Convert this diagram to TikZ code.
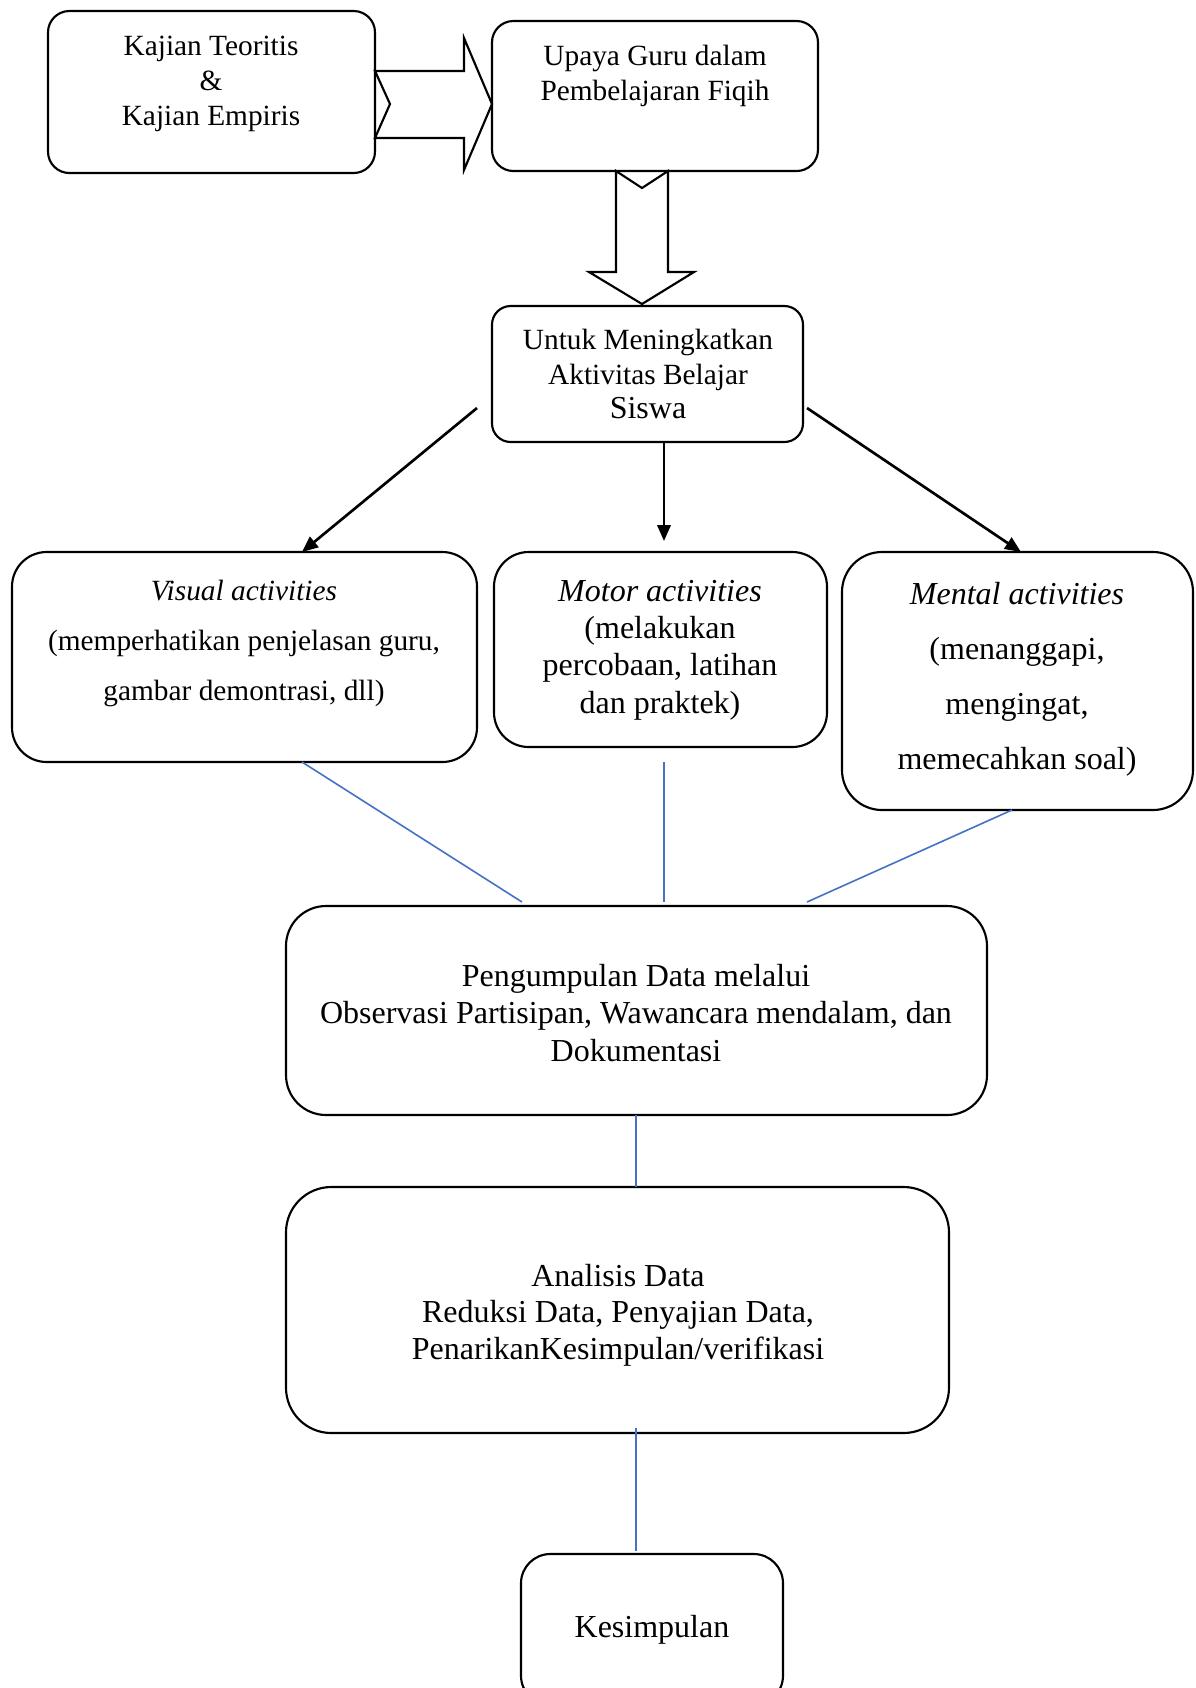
\documentclass[tikz,border=0pt]{standalone}
\usepackage{fontspec}
\setmainfont{Liberation Serif}
\usetikzlibrary{arrows.meta,fit}
\definecolor{lineblue}{RGB}{68,114,196}
\begin{document}
\begin{tikzpicture}[x=0.375pt,y=-0.375pt,
  box/.style={draw=black, line width=0.8pt, inner sep=0pt, outer sep=0pt},
  txt/.style={align=center, inner sep=0pt, font=\fontsize{12}{14}\selectfont},
  blockarrow/.style={draw=black, line width=0.8pt, fill=white, line join=miter},
  arr/.style={draw=black, line width=1pt, -{Triangle[length=6pt,width=5pt]}},
  bluelink/.style={draw=lineblue, line width=0.6pt}]
\useasboundingbox (0,0) rectangle (1196,1688);
\clip (0,0) rectangle (1196,1688);
\fill[white] (0,0) rectangle (1196,1688);

% boxes
\node[box, rounded corners=8pt, fit={(48,11) (375,173)}] (kajian) {};
\node[box, rounded corners=8pt, fit={(492,21) (818,171)}] (upaya) {};
\node[box, rounded corners=7pt, fit={(492,306) (803,442)}] (untuk) {};
\node[box, rounded corners=13pt, fit={(12,552) (477,762)}] (visual) {};
\node[box, rounded corners=13pt, fit={(494,552) (827,747)}] (motor) {};
\node[box, rounded corners=15pt, fit={(842,552) (1193,810)}] (mental) {};
\node[box, rounded corners=15pt, fit={(286,906) (987,1115)}] (kumpul) {};
\node[box, rounded corners=17pt, fit={(286,1187) (949,1433)}] (analisis) {};
\node[box, rounded corners=11pt, fit={(521,1554) (783,1705)}] (simpul) {};

% texts
\node[txt, font=\fontsize{11}{13}\selectfont] (tkajian) at (211,84) {Kajian Teoritis\\ \&\\ Kajian Empiris};
\node[txt, font=\fontsize{11}{13}\selectfont] (tupaya) at (655,76) {Upaya Guru dalam\\ Pembelajaran Fiqih};
\node[txt, font=\fontsize{11}{13}\selectfont] (tuntuk) at (648,374) {Untuk Meningkatkan\\ Aktivitas Belajar\\ {\fontsize{12}{13}\selectfont Siswa}};
\node[txt, font=\fontsize{11}{18.75}\selectfont] (tvisual) at (244,643) {\textit{Visual activities}\\ (memperhatikan penjelasan guru,\\ gambar demontrasi, dll)};
\node[txt, font=\fontsize{12}{14}\selectfont] (tmotor) at (660,650) {\textit{Motor activities}\\ (melakukan\\ percobaan, latihan\\ dan praktek)};
\node[txt, font=\fontsize{12}{20.6}\selectfont] (tmental) at (1017,679) {\textit{Mental activities}\\ (menanggapi,\\ mengingat,\\ memecahkan soal)};
\node[txt, font=\fontsize{12}{14}\selectfont] (tkumpul) at (636,1013) {Pengumpulan Data melalui\\ Observasi Partisipan, Wawancara mendalam, dan\\ Dokumentasi};
\node[txt, font=\fontsize{12}{13.7}\selectfont] (tanalisis) at (618,1315) {Analisis Data\\ Reduksi Data, Penyajian Data,\\ PenarikanKesimpulan/verifikasi};
\node[txt, font=\fontsize{12}{14}\selectfont] (tsimpul) at (652,1630) {Kesimpulan};

% block arrows
\draw[blockarrow] (375,71) -- (464,71) -- (464,38) -- (492,104) -- (464,170) -- (464,138) -- (375,138) -- (390,104) -- cycle;
\draw[blockarrow] (616,171) -- (642,188) -- (668,171) -- (668,272) -- (694,272) -- (642,304) -- (589,272) -- (616,272) -- cycle;

% black arrows
\coordinate (a1s) at (477,408);
\coordinate (a1e) at (302,552);
\coordinate (a2s) at (664,442);
\coordinate (a2e) at (664,541);
\coordinate (a3s) at (807,408);
\coordinate (a3e) at (1021,552);
\draw[arr] (a1s) -- (a1e);
\draw[arr] (a2s) -- (a2e);
\draw[arr] (a3s) -- (a3e);

% blue links
\coordinate (b1s) at (302,762);
\coordinate (b1e) at (522,902);
\coordinate (b2s) at (664,762);
\coordinate (b2e) at (664,902);
\coordinate (b3s) at (1012,810);
\coordinate (b3e) at (807,902);
\coordinate (b4s) at (636,1115);
\coordinate (b4e) at (636,1187);
\coordinate (b5s) at (636,1428);
\coordinate (b5e) at (636,1551);
\draw[bluelink] (b1s) -- (b1e);
\draw[bluelink] (b2s) -- (b2e);
\draw[bluelink] (b3s) -- (b3e);
\draw[bluelink] (b4s) -- (b4e);
\draw[bluelink] (b5s) -- (b5e);
\end{tikzpicture}
\end{document}
